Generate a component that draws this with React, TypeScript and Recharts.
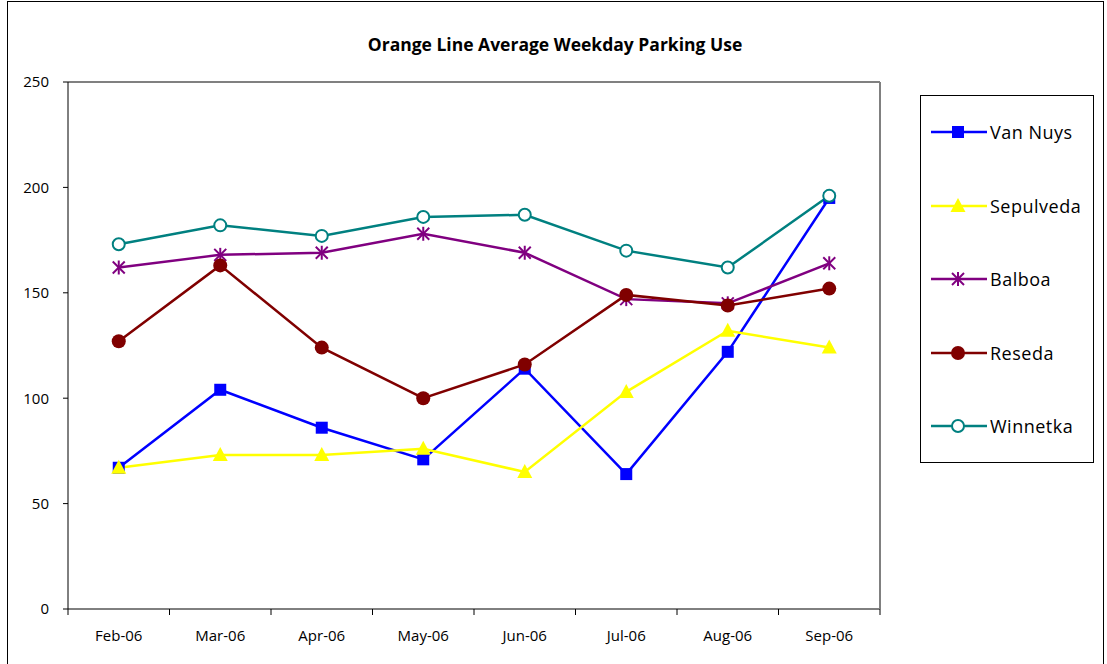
import React from "react";
import { LineChart, Line, XAxis, YAxis, ReferenceLine } from "recharts";

const months = ["Feb-06", "Mar-06", "Apr-06", "May-06", "Jun-06", "Jul-06", "Aug-06", "Sep-06"];
const vanNuys = [67, 104, 86, 71, 114, 64, 122, 195];
const sepulveda = [67, 73, 73, 76, 65, 103, 132, 124];
const balboa = [162, 168, 169, 178, 169, 147, 145, 164];
const reseda = [127, 163, 124, 100, 116, 149, 144, 152];
const winnetka = [173, 182, 177, 186, 187, 170, 162, 196];
const yTicks = [0, 50, 100, 150, 200, 250];

const data = months.map((m, i) => ({
  month: m,
  vanNuys: vanNuys[i],
  sepulveda: sepulveda[i],
  balboa: balboa[i],
  reseda: reseda[i],
  winnetka: winnetka[i],
}));

const FONT = "'Open Sans', 'DejaVu Sans', sans-serif";
const PLOT_L = 68;
const PLOT_R = 880;
const PLOT_T = 82;
const PLOT_B = 609;
const BAND = (PLOT_R - PLOT_L) / months.length;

type Kind = "square" | "triangle" | "star" | "dot" | "ring";

function Marker({ kind, cx, cy, color }: { kind: Kind; cx: number; cy: number; color: string }) {
  if (cx == null || cy == null) return null;
  switch (kind) {
    case "square":
      return <rect x={cx - 6} y={cy - 6} width={12} height={12} fill={color} />;
    case "triangle":
      return <polygon points={`${cx},${cy - 8} ${cx + 7.5},${cy + 6} ${cx - 7.5},${cy + 6}`} fill={color} />;
    case "star":
      return (
        <g stroke={color} strokeWidth={2}>
          <line x1={cx} y1={cy - 7} x2={cx} y2={cy + 7} />
          <line x1={cx - 6} y1={cy - 6} x2={cx + 6} y2={cy + 6} />
          <line x1={cx - 6} y1={cy + 6} x2={cx + 6} y2={cy - 6} />
        </g>
      );
    case "dot":
      return <circle cx={cx} cy={cy} r={7} fill={color} />;
    case "ring":
      return <circle cx={cx} cy={cy} r={6} fill="#fff" stroke={color} strokeWidth={2} />;
  }
}

const series: { key: string; name: string; color: string; kind: Kind }[] = [
  { key: "vanNuys", name: "Van Nuys", color: "#0000ff", kind: "square" },
  { key: "sepulveda", name: "Sepulveda", color: "#ffff00", kind: "triangle" },
  { key: "balboa", name: "Balboa", color: "#800080", kind: "star" },
  { key: "reseda", name: "Reseda", color: "#800000", kind: "dot" },
  { key: "winnetka", name: "Winnetka", color: "#008080", kind: "ring" },
];

function XTick({ x, payload, index }: any) {
  const left = x - BAND / 2;
  return (
    <g>
      <line x1={left} x2={left} y1={PLOT_B} y2={PLOT_B + 6} stroke="#000" />
      {index === months.length - 1 && (
        <line x1={x + BAND / 2} x2={x + BAND / 2} y1={PLOT_B} y2={PLOT_B + 6} stroke="#000" />
      )}
      <text x={x} y={641} textAnchor="middle" fontSize={15} fontFamily={FONT} fill="#000">
        {payload.value}
      </text>
    </g>
  );
}

function LegendBox() {
  return (
    <div
      style={{
        position: "absolute",
        left: 920,
        top: 95,
        width: 174,
        height: 368,
        border: "1px solid #000",
        background: "#fff",
        fontFamily: FONT,
        fontSize: 18,
        letterSpacing: 0.5,
        boxSizing: "border-box",
      }}
    >
      {series.map((s, i) => (
        <div
          key={s.key}
          style={{ position: "absolute", left: 10, top: 22 + i * 73.5, display: "flex", alignItems: "center", height: 28 }}
        >
          <svg width={58} height={28}>
            <line x1={0} x2={56} y1={14} y2={14} stroke={s.color} strokeWidth={2.5} />
            <Marker kind={s.kind} cx={27} cy={14} color={s.color} />
          </svg>
          <span style={{ marginLeft: 1, color: "#000" }}>{s.name}</span>
        </div>
      ))}
    </div>
  );
}

export default function App() {
  return (
    <div style={{ position: "absolute", left: 0, top: 0, width: 1107, height: 664, background: "#fff", overflow: "hidden" }}>
      <div
        style={{
          position: "absolute",
          left: 7,
          top: 1,
          width: 1097,
          height: 680,
          border: "1px solid #000",
          boxSizing: "border-box",
        }}
      />
      <div
        style={{
          position: "absolute",
          left: 0,
          top: 32,
          width: 1110,
          textAlign: "center",
          fontFamily: FONT,
          fontWeight: 700,
          fontSize: 17.5,
          color: "#000",
        }}
      >
        Orange Line Average Weekday Parking Use
      </div>
      <div style={{ position: "absolute", left: 0, top: 0 }}>
        <LineChart
          width={1107}
          height={664}
          data={data}
          margin={{ top: PLOT_T, right: 1107 - PLOT_R - 2, bottom: 664 - PLOT_B - 30, left: PLOT_L - 60 }}
        >
          <XAxis
            dataKey="month"
            height={30}
            tick={<XTick />}
            tickLine={false}
            axisLine={{ stroke: "#000" }}
            interval={0}
            padding={{ left: BAND / 2, right: BAND / 2 }}
          />
          <YAxis
            yAxisId="left"
            width={60}
            domain={[0, 250]}
            ticks={yTicks}
            tickSize={5}
            tickMargin={14}
            tickLine={{ stroke: "#000" }}
            axisLine={{ stroke: "#000" }}
            tick={{ fontSize: 15, fontFamily: FONT, fill: "#000" }}
          />
          <YAxis
            yAxisId="right"
            orientation="right"
            width={2}
            domain={[0, 250]}
            ticks={yTicks}
            tick={false}
            tickLine={false}
            axisLine={{ stroke: "#808080", strokeWidth: 2 }}
          />
          <ReferenceLine yAxisId="left" y={250} stroke="#808080" strokeWidth={2} />
          {series.map((s) => (
            <Line
              key={s.key}
              yAxisId="left"
              dataKey={s.key}
              name={s.name}
              stroke={s.color}
              strokeWidth={2.5}
              isAnimationActive={false}
              dot={(p: any) => <Marker key={`${s.key}-${p.index}`} kind={s.kind} cx={p.cx} cy={p.cy} color={s.color} />}
              activeDot={false}
            />
          ))}
        </LineChart>
      </div>
      <LegendBox />
    </div>
  );
}
